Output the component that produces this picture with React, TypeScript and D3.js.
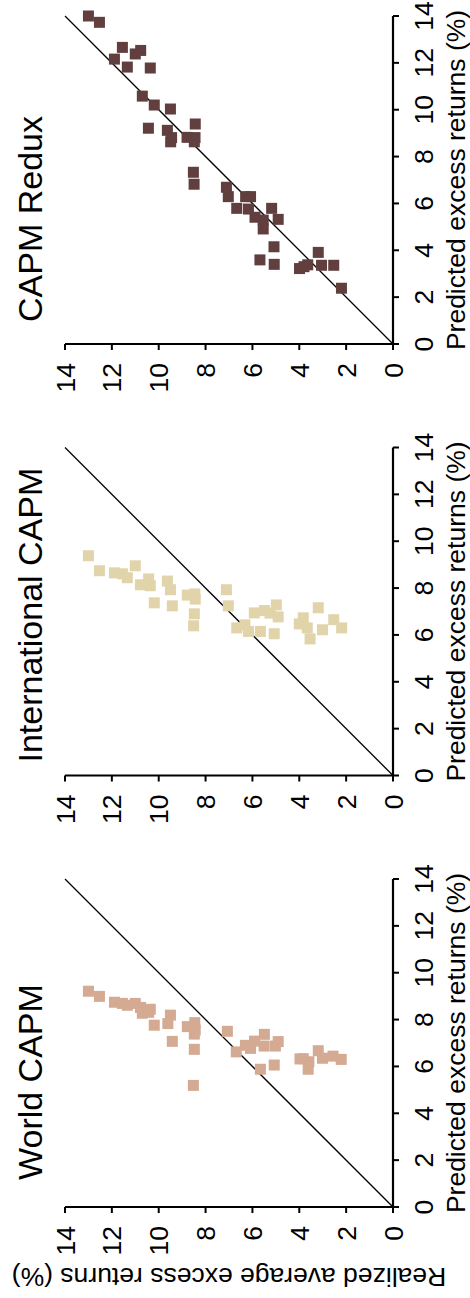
import * as d3 from 'd3'

// values: [predicted, realized] in %
const worldPoints: [number, number][] = [
  [9.21, 13.0], [8.99, 12.53], [8.74, 11.89], [8.69, 11.55], [8.61, 11.34], [8.69, 11.0],
  [8.52, 10.78], [8.27, 10.7], [8.31, 10.43], [8.44, 10.36], [7.76, 10.19], [8.19, 9.5],
  [7.83, 9.61], [7.07, 9.42], [7.7, 8.78], [7.87, 8.46], [7.55, 8.44], [7.38, 8.48],
  [6.73, 8.48], [5.19, 8.52], [7.5, 7.07], [6.62, 6.69], [6.9, 6.3], [6.77, 6.08],
  [7.08, 5.91], [7.37, 5.49], [6.87, 5.5], [6.87, 5.02], [7.06, 4.9], [5.88, 5.66],
  [6.06, 5.07], [6.32, 3.97], [6.33, 3.83], [6.2, 3.59], [5.88, 3.62], [6.67, 3.19],
  [6.35, 3.01], [6.44, 2.56], [6.3, 2.21],
]

const intlPoints: [number, number][] = [
  [9.38, 13.0], [8.74, 12.53], [8.65, 11.89], [8.61, 11.55], [8.44, 11.34], [8.95, 11.0],
  [8.14, 10.78], [8.39, 10.43], [8.1, 10.36], [7.37, 10.19], [8.3, 9.63], [7.93, 9.5],
  [7.24, 9.42], [7.7, 8.78], [7.75, 8.46], [7.53, 8.44], [6.9, 8.48], [6.39, 8.51],
  [7.93, 7.11], [7.24, 7.03], [6.3, 6.67], [6.43, 6.32], [6.15, 6.17], [6.94, 5.92],
  [7.04, 5.49], [7.28, 4.98], [6.77, 4.9], [6.93, 5.25], [6.15, 5.66], [6.05, 5.07],
  [6.47, 4.0], [6.73, 3.83], [6.3, 3.66], [5.83, 3.54], [7.16, 3.19], [6.22, 3.01],
  [6.65, 2.53], [6.3, 2.19],
]

const reduxPoints: [number, number][] = [
  [14.0, 13.0], [13.73, 12.53], [12.66, 11.55], [12.16, 11.89], [12.38, 11.0], [12.53, 10.77],
  [11.82, 11.34], [11.78, 10.36], [10.58, 10.7], [10.2, 10.19], [10.03, 9.5], [9.21, 10.44],
  [9.12, 9.63], [8.81, 9.45], [8.63, 9.49], [8.82, 8.79], [8.81, 8.45], [8.63, 8.48],
  [9.39, 8.44], [7.33, 8.52], [6.82, 8.49], [6.69, 7.11], [6.29, 7.03], [5.79, 6.67],
  [6.29, 6.29], [6.29, 6.08], [5.76, 6.17], [5.41, 5.89], [5.29, 5.54], [4.91, 5.54],
  [5.79, 5.18], [5.32, 4.9], [4.15, 5.08], [3.59, 5.68], [3.4, 5.07], [3.91, 3.19],
  [3.22, 3.99], [3.3, 3.8], [3.38, 3.64], [3.36, 3.05], [3.36, 2.53], [2.38, 2.2],
]

const panelTitles = ['World CAPM', 'International CAPM', 'CAPM Redux']
const panelColors = ['#d4aa93', '#e1d4aa', '#623f3f']
const panelData = [worldPoints, intlPoints, reduxPoints]
const titleOffsets = [27, 13, 22]
const ticks = [0, 2, 4, 6, 8, 10, 12, 14]

// the chart is laid out landscape, then turned a quarter to the left
const W = 1298
const H = 470
const FONT = '"Liberation Sans", Arial, Helvetica, sans-serif'
const plotTop = 65
const plotBottom = 393
const panelW = 328
const firstLeft = 91
const panelStep = 431.5
const sq = 11

function Panel({ i }: { i: number }) {
  const left = firstLeft + i * panelStep
  const x = d3.scaleLinear().domain([0, 14]).range([left, left + panelW])
  const y = d3.scaleLinear().domain([0, 14]).range([plotBottom, plotTop])
  const pts = panelData[i]
  return (
    <g>
      <text x={left + titleOffsets[i]} y={42} fontSize={34} fontFamily={FONT} fill="#000">
        {panelTitles[i]}
      </text>
      {/* 45 degree line */}
      <line x1={x(0)} y1={y(0)} x2={x(14)} y2={y(14)} stroke="#000" strokeWidth={1.3} />
      {pts.map((d, k) => (
        <rect key={k} x={x(d[0]) - sq / 2} y={y(d[1]) - sq / 2} width={sq} height={sq}
          fill={panelColors[i]} />
      ))}
      {/* axes */}
      <line x1={x(0)} y1={y(0)} x2={x(14)} y2={y(0)} stroke="#000" strokeWidth={2.2} />
      <line x1={x(0)} y1={y(0)} x2={x(0)} y2={y(14)} stroke="#000" strokeWidth={2.2} />
      {ticks.map(t => (
        <g key={'x' + t}>
          <line x1={x(t)} x2={x(t)} y1={y(0)} y2={y(0) + 6} stroke="#000" strokeWidth={2} />
          <text x={x(t)} y={y(0) + 40} textAnchor="middle" fontSize={26.5} fontFamily={FONT}>{t}</text>
        </g>
      ))}
      {ticks.map(t => (
        <g key={'y' + t}>
          <line x1={x(0) - 6} x2={x(0)} y1={y(t)} y2={y(t)} stroke="#000" strokeWidth={2} />
          <text x={x(0) - 19} y={y(t)} dy="0.36em" textAnchor="end" fontSize={26.5} fontFamily={FONT}>{t}</text>
        </g>
      ))}
      <text x={left + panelW / 2} y={465} textAnchor="middle" fontSize={26.5} fontFamily={FONT}>
        Predicted excess returns (%)
      </text>
    </g>
  )
}

export default function App() {
  return (
    <svg width={H} height={W} style={{ position: 'absolute', left: 0, top: 0, background: '#fff' }}>
      <rect width={H} height={W} fill="#fff" />
      <g transform={`translate(0,${W}) rotate(-90)`}>
        {panelTitles.map((_, i) => <Panel key={i} i={i} />)}
        <text transform={`translate(30,${(plotTop + plotBottom) / 2}) rotate(-90)`} textAnchor="middle"
          fontSize={26.5} fontFamily={FONT}>
          Realized average excess returns (%)
        </text>
      </g>
    </svg>
  )
}
